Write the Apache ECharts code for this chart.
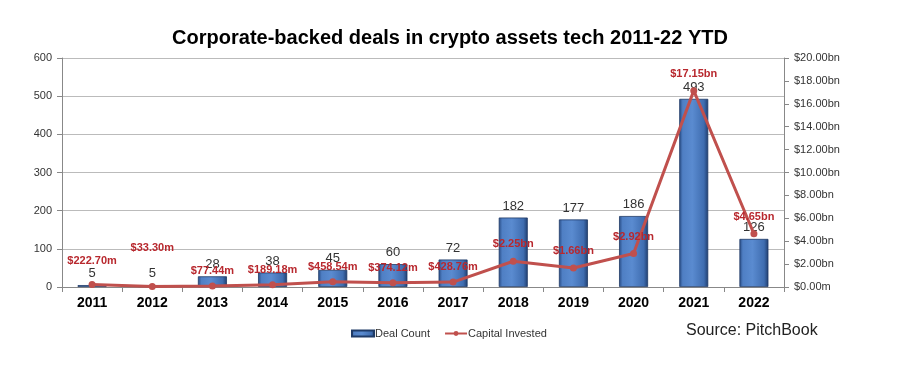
<!DOCTYPE html>
<html>
<head>
<meta charset="utf-8">
<script src="https://cdn.jsdelivr.net/npm/echarts@6/dist/echarts.min.js"></script>
<style>html,body{margin:0;padding:0;background:#fff}#c{width:900px;height:383px}</style>
</head>
<body>
<div id="c"></div>
<script>
const years = ['2011','2012','2013','2014','2015','2016','2017','2018','2019','2020','2021','2022'];
const dealCount = [5, 5, 28, 38, 45, 60, 72, 182, 177, 186, 493, 126];
const capitalBn = [0.2227, 0.0333, 0.07744, 0.18918, 0.45854, 0.37412, 0.42876, 2.25, 1.66, 2.92, 17.15, 4.65];
const capitalLabels = ['$222.70m','$33.30m','$77.44m','$189.18m','$458.54m','$374.12m','$428.76m','$2.25bn','$1.66bn','$2.92bn','$17.15bn','$4.65bn'];
const leftTicks = [0, 100, 200, 300, 400, 500, 600];
const rightTicks = ['$0.00m','$2.00bn','$4.00bn','$6.00bn','$8.00bn','$10.00bn','$12.00bn','$14.00bn','$16.00bn','$18.00bn','$20.00bn'];

const chart = echarts.init(document.getElementById('c'), null, {renderer: 'canvas'});
const barGrad = new echarts.graphic.LinearGradient(0, 0, 1, 0, [
  {offset: 0, color: '#274a83'},
  {offset: 0.12, color: '#4f7fc4'},
  {offset: 0.45, color: '#5a8bd0'},
  {offset: 0.85, color: '#3f6db0'},
  {offset: 1, color: '#1f3d6e'}
]);
const labelDist = [14, 30, 6, 6, 6, 6, 6, 8, 8, 8, 8, 8];
chart.setOption({
  backgroundColor: '#fff',
  animation: false,
  textStyle: {fontFamily: 'Arial, "Liberation Sans", sans-serif'},
  title: {
    text: 'Corporate-backed deals in crypto assets tech 2011-22 YTD',
    left: 445, top: 23, textAlign: 'center',
    textStyle: {fontSize: 20, fontWeight: 'bold', color: '#000', fontFamily: 'Arial, "Liberation Sans", sans-serif'}
  },
  legend: {
    left: 346, top: 323, itemGap: 14, itemWidth: 22, itemHeight: 6,
    textStyle: {fontSize: 11, color: '#333', padding: [0,0,0,-4]},
    data: [{name: 'Deal Count', icon: 'rect'}, {name: 'Capital Invested'}]
  },
  graphic: [{
    type: 'text', left: 686, top: 323,
    style: {text: 'Source: PitchBook', fontSize: 16, fill: '#222', fontFamily: 'Arial, "Liberation Sans", sans-serif'}
  }],
  grid: {left: 62, right: 116, top: 58, bottom: 96},
  xAxis: {
    type: 'category', data: years, boundaryGap: true,
    axisLine: {lineStyle: {color: '#888', width: 1}},
    axisTick: {show: true, length: 5, lineStyle: {color: '#888'}},
    axisLabel: {fontSize: 14, fontWeight: 'bold', color: '#000', margin: 9}
  },
  yAxis: [{
    type: 'value', min: 0, max: 600, interval: 100,
    axisLine: {show: true, lineStyle: {color: '#888'}},
    axisTick: {show: true, length: 5, lineStyle: {color: '#888'}},
    axisLabel: {fontSize: 11, color: '#333', margin: 10,
      formatter: (v) => String(leftTicks[Math.round(v / 100)])},
    splitLine: {lineStyle: {color: '#bbb', width: 1}}
  }, {
    type: 'value', min: 0, max: 20, interval: 2, position: 'right',
    axisLine: {show: true, lineStyle: {color: '#888'}},
    axisTick: {show: true, length: 5, lineStyle: {color: '#888'}},
    axisLabel: {fontSize: 11, color: '#333', margin: 10,
      formatter: (v) => rightTicks[Math.round(v / 2)]},
    splitLine: {show: false}
  }],
  series: [{
    name: 'Deal Count', type: 'bar', yAxisIndex: 0, barWidth: 29,
    data: dealCount,
    itemStyle: {color: barGrad, borderColor: '#1f3a66', borderWidth: 0.8},
    label: {show: true, position: 'top', distance: 5, fontSize: 13, color: '#333'},
    z: 2
  }, {
    name: 'Capital Invested', type: 'line', yAxisIndex: 1,
    data: capitalBn.map((v, i) => ({value: v, label: {distance: labelDist[i]}})),
    lineStyle: {color: '#c0504d', width: 3},
    itemStyle: {color: '#c0504d'},
    symbol: 'circle', symbolSize: 7,
    label: {show: true, position: 'top', fontSize: 11, fontWeight: 'bold', color: '#b8282e',
      formatter: (p) => capitalLabels[p.dataIndex]},
    z: 3
  }]
});
</script>
</body>
</html>
